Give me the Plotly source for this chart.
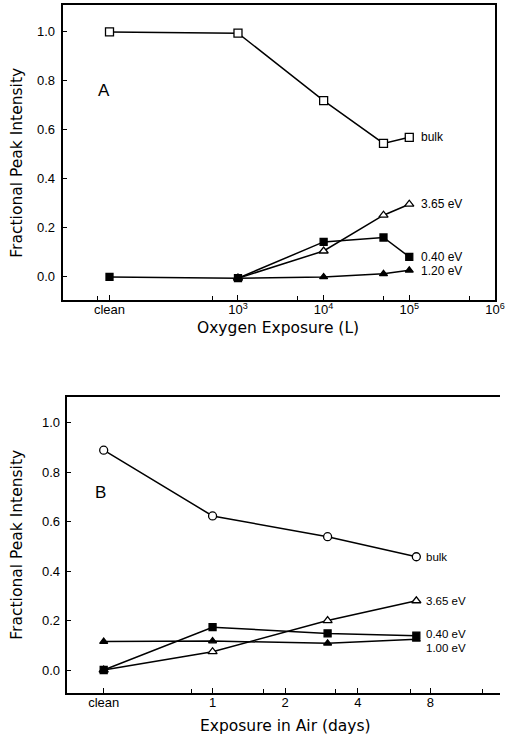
import plotly.graph_objects as go
import math

# ---------------- data ----------------
# Panel A: oxygen exposure (Langmuir); "clean" plotted at a stand-in position
CLEAN_A = 10 ** 1.5
expo_A = [CLEAN_A, 1e3, 1e4, 5e4, 1e5]
bulk_A = [1.00, 0.995, 0.72, 0.545, 0.57]
ev365_A = [None, -0.005, 0.106, 0.252, 0.297]
ev040_A = [0.0, -0.005, 0.143, 0.161, 0.082]
ev120_A = [None, -0.005, 0.0, 0.013, 0.027]
tickvals_A = [CLEAN_A, 1e3, 1e4, 1e5, 1e6]
ticktext_A = ["clean", "10<sup>3</sup>", "10<sup>4</sup>", "10<sup>5</sup>", "10<sup>6</sup>"]
minor_A = [23, 5e2, 5e3, 5e4, 5e5]

# Panel B: exposure in air (days)
CLEAN_B = 2 ** -1.5
days_B = [CLEAN_B, 1, 3, 7]
bulk_B = [0.889, 0.623, 0.539, 0.458]
ev365_B = [0.0, 0.074, 0.200, 0.280]
ev040_B = [0.0, 0.173, 0.148, 0.139]
ev100_B = [0.115, 0.117, 0.108, 0.124]
tickvals_B = [CLEAN_B, 1, 2, 4, 8]
ticktext_B = ["clean", "1", "2", "4", "8"]
minor_B = [0.82, 1.62, 3.25, 6.6, 13.2]

yticks = [0.0, 0.2, 0.4, 0.6, 0.8, 1.0]

FONT = "Liberation Sans"
TFONT = "DejaVu Sans"
W, H = 510, 737

fig = go.Figure()
LW = 1.5


def add(x, y, sym, fill, xa, ya, size=8):
    fig.add_trace(go.Scatter(
        x=x, y=y, mode="lines+markers", xaxis=xa, yaxis=ya,
        line=dict(color="black", width=LW),
        marker=dict(symbol=sym, size=size, color=fill,
                    line=dict(color="black", width=1.3)),
        showlegend=False, connectgaps=False))


# Panel A
add(expo_A, ev120_A, "triangle-up", "black", "x", "y", 7)
add(expo_A, ev365_A, "triangle-up", "white", "x", "y", 8)
add(expo_A, ev040_A, "square", "black", "x", "y", 7)
add(expo_A, bulk_A, "square", "white", "x", "y", 8)
# Panel B
add(days_B, ev100_B, "triangle-up", "black", "x2", "y2", 7)
add(days_B, ev365_B, "triangle-up", "white", "x2", "y2", 8)
add(days_B, ev040_B, "square", "black", "x2", "y2", 7)
add(days_B, bulk_B, "circle", "white", "x2", "y2", 8)


def px_x(a, b):
    return [a / W, b / W]


def px_y(top, bottom):
    return [(H - bottom) / H, (H - top) / H]


axis_common = dict(showline=True, linecolor="black", linewidth=1.5,
                   ticks="inside", ticklen=5, tickcolor="black", tickwidth=1.2,
                   showgrid=False, zeroline=False)

xfont = dict(family=FONT, size=13, color="black")

fig.update_layout(
    width=W, height=H, margin=dict(l=0, r=0, t=0, b=0),
    paper_bgcolor="white", plot_bgcolor="white",
    xaxis=dict(axis_common, type="log", domain=px_x(64, 505),
               range=[0.954, 6.002], mirror=True,
               tickmode="array", tickvals=tickvals_A, ticktext=ticktext_A,
               minor=dict(tickmode="array", tickvals=minor_A, ticks="inside",
                          ticklen=4, tickcolor="black", tickwidth=1.2),
               tickfont=xfont, ticklabelstandoff=-3,
               ticklabeloverflow="allow", anchor="y"),
    yaxis=dict(axis_common, domain=px_y(5, 300), range=[-0.094, 1.11],
               mirror=True, tickvals=yticks, showticklabels=False, anchor="x"),
    xaxis2=dict(axis_common, type="log", domain=px_x(68, 510),
                range=[math.log10(2 ** -2.01), math.log10(2 ** 3.96)],
                mirror=True,
                tickmode="array", tickvals=tickvals_B, ticktext=ticktext_B,
                minor=dict(tickmode="array", tickvals=minor_B, ticks="inside",
                           ticklen=4, tickcolor="black", tickwidth=1.2),
                tickfont=xfont, ticklabelstandoff=-3,
                ticklabeloverflow="allow", anchor="y2"),
    yaxis2=dict(axis_common, domain=px_y(397, 693), range=[-0.093, 1.104],
                mirror=False, tickvals=yticks, showticklabels=False, anchor="x2"),
)

ann = []
# y tick labels, placed through the y scales
yfont = dict(family=FONT, size=13, color="black")
for v in yticks:
    ann.append(dict(x=58 / W, y=v, xref="paper", yref="y", text=f"{v:.1f}",
                    showarrow=False, xanchor="right", yanchor="middle", font=yfont))
    ann.append(dict(x=63 / W, y=v, xref="paper", yref="y2", text=f"{v:.1f}",
                    showarrow=False, xanchor="right", yanchor="middle", font=yfont))

labA = dict(family=FONT, size=12, color="black")
labB = dict(family=FONT, size=11.5, color="black")
for text, yv, ys in [("bulk", bulk_A[-1], 0), ("3.65 eV", ev365_A[-1], 0),
                     ("0.40 eV", ev040_A[-1], 0), ("1.20 eV", ev120_A[-1], -1)]:
    ann.append(dict(x=math.log10(expo_A[-1]), y=yv, xref="x", yref="y",
                    text=text, showarrow=False, xanchor="left", yanchor="middle",
                    xshift=10, yshift=ys, font=labA))
for text, yv, ys in [("bulk", bulk_B[-1], 0), ("3.65 eV", ev365_B[-1], 0),
                     ("0.40 eV", ev040_B[-1], 2), ("1.00 eV", ev100_B[-1], -9)]:
    ann.append(dict(x=math.log10(days_B[-1]), y=yv, xref="x2", yref="y2",
                    text=text, showarrow=False, xanchor="left", yanchor="middle",
                    xshift=8, yshift=ys, font=labB))

cen = dict(xref="paper", yref="paper", showarrow=False,
           xanchor="center", yanchor="middle")
ann.append(dict(cen, x=106 / W, y=(H - 90) / H, text="A",
                font=dict(family=FONT, size=17, color="black")))
ann.append(dict(cen, x=103 / W, y=(H - 493) / H, text="B",
                font=dict(family=FONT, size=17, color="black")))

tfont = dict(family=TFONT, size=15.5, color="black")
ann.append(dict(cen, x=284 / W, y=(H - 328) / H,
                text="Oxygen Exposure (L)", font=tfont))
ann.append(dict(cen, x=291 / W, y=(H - 726) / H,
                text="Exposure in Air (days)", font=tfont))
ann.append(dict(cen, x=17 / W, y=(H - 163) / H,
                text="Fractional Peak Intensity", textangle=-90, font=tfont))
ann.append(dict(cen, x=17 / W, y=(H - 545) / H,
                text="Fractional Peak Intensity", textangle=-90, font=tfont))

fig.update_layout(annotations=ann)
# remove the browser's default 8px page margin so the figure fills the window
fig.write_html("out.html",
               config={"displayModeBar": False},
               post_script="document.body.style.margin='0';"
                           "document.body.style.overflow='hidden';")
